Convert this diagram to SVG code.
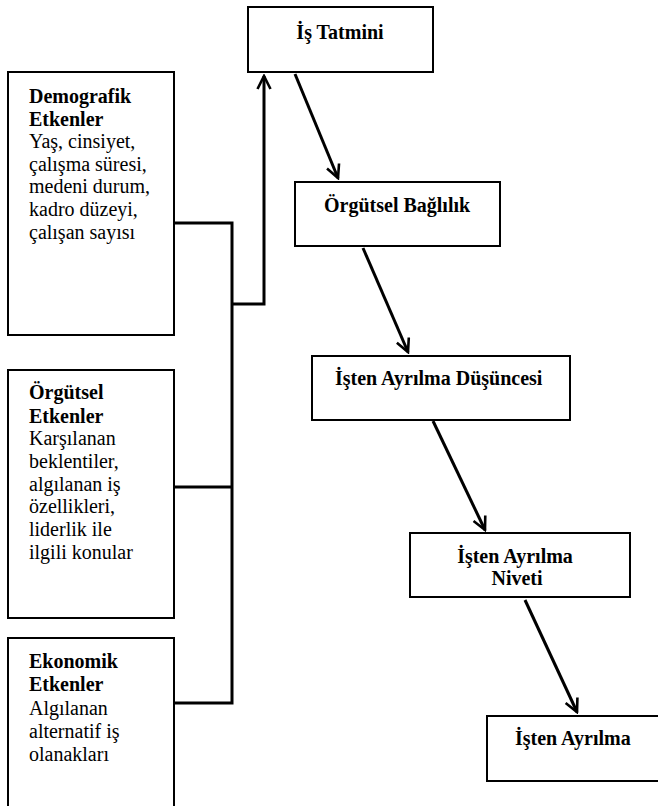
<svg xmlns="http://www.w3.org/2000/svg" width="658" height="806" viewBox="0 0 658 806">
<style>
.box{fill:#fff;stroke:#000;stroke-width:2}
text{font-family:'Liberation Serif','Times New Roman','DejaVu Serif',serif;font-size:20px;fill:#000}
.b{font-weight:bold}
.c{fill:none;stroke:#000;stroke-width:3}
</style>
<defs>
<marker id="ah" viewBox="0 0 16 16" refX="14" refY="8" markerWidth="16" markerHeight="16" markerUnits="userSpaceOnUse" orient="auto">
<path d="M1,1.5 L14,8 L1,14.5" fill="none" stroke="#000" stroke-width="2.6"/>
</marker>
</defs>
<rect x="0" y="0" width="658" height="806" fill="#fff"/>
<g id="connectors">
<polyline class="c" points="174,223 232,223 232,703 174,703"/>
<line class="c" x1="174" y1="487" x2="232" y2="487"/>
<polyline class="c" points="232,304 264,304 264,76" marker-end="url(#ah)"/>
<line class="c" x1="295" y1="74" x2="338" y2="178" marker-end="url(#ah)"/>
<line class="c" x1="363" y1="248" x2="408" y2="352" marker-end="url(#ah)"/>
<line class="c" x1="433" y1="421" x2="485" y2="530" marker-end="url(#ah)"/>
<line class="c" x1="525" y1="600" x2="577" y2="712" marker-end="url(#ah)"/>
</g>
<g id="demografik" font-family="Liberation Serif, serif">
<rect class="box" x="8" y="72" width="166" height="263"/>
<text><tspan class="b" x="29" y="103">Demografik</tspan><tspan class="b" x="29" y="126">Etkenler</tspan><tspan x="29" y="148">Yaş, cinsiyet,</tspan><tspan x="29" y="171">çalışma süresi,</tspan><tspan x="29" y="193">medeni durum,</tspan><tspan x="29" y="216">kadro düzeyi,</tspan><tspan x="29" y="239">çalışan sayısı</tspan></text>
</g>
<g id="orgutsel-etkenler">
<rect class="box" x="8" y="370" width="166" height="248"/>
<text><tspan class="b" x="29" y="399">Örgütsel</tspan><tspan class="b" x="29" y="423">Etkenler</tspan><tspan x="29" y="445">Karşılanan</tspan><tspan x="29" y="468">beklentiler,</tspan><tspan x="29" y="491">algılanan iş</tspan><tspan x="29" y="513">özellikleri,</tspan><tspan x="29" y="536">liderlik ile</tspan><tspan x="29" y="559">ilgili konular</tspan></text>
</g>
<g id="ekonomik">
<rect class="box" x="8" y="638" width="166" height="190"/>
<text><tspan class="b" x="29" y="668">Ekonomik</tspan><tspan class="b" x="29" y="691">Etkenler</tspan><tspan x="29" y="715">Algılanan</tspan><tspan x="29" y="738">alternatif iş</tspan><tspan x="29" y="761">olanakları</tspan></text>
</g>
<g id="is-tatmini">
<rect class="box" x="248" y="7" width="185" height="65"/>
<text class="b" x="340" y="39" text-anchor="middle">İş Tatmini</text>
</g>
<g id="orgutsel-baglilik">
<rect class="box" x="295" y="182" width="205" height="64"/>
<text class="b" x="324" y="212">Örgütsel Bağlılık</text>
</g>
<g id="dusunce">
<rect class="box" x="312" y="356" width="258" height="64"/>
<text class="b" x="335" y="385">İşten Ayrılma Düşüncesi</text>
</g>
<g id="niyet">
<rect class="box" x="410" y="533" width="220" height="64"/>
<text class="b" text-anchor="middle"><tspan x="515" y="563">İşten Ayrılma</tspan><tspan x="517" y="585">Niveti</tspan></text>
</g>
<g id="ayrilma">
<rect class="box" x="487" y="716" width="200" height="65"/>
<text class="b" x="515" y="745">İşten Ayrılma</text>
</g>
</svg>
